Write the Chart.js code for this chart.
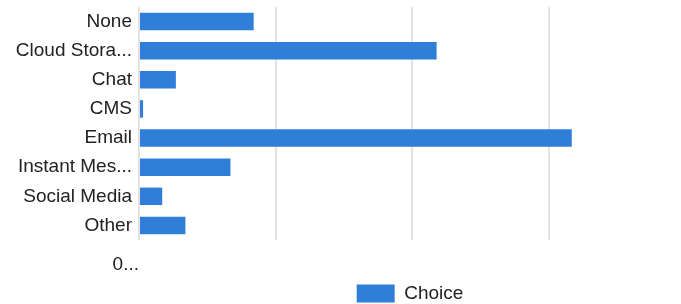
<!DOCTYPE html>
<html>
<head>
<meta charset="utf-8">
<script src="https://cdn.jsdelivr.net/npm/chart.js@4"></script>
<style>
  html, body { margin: 0; padding: 0; background: #fff; overflow: hidden; }
  #wrap { width: 681px; height: 304px; }
</style>
</head>
<body>
<div id="wrap"><canvas id="choiceChart"></canvas></div>
<script>
// categories and values (one gridline = 10)
const categories = ['None', 'Cloud Stora...', 'Chat', 'CMS', 'Email', 'Instant Mes...', 'Social Media', 'Other'];
const choiceValues = [8.4, 21.8, 2.7, 0.3, 31.7, 6.7, 1.7, 3.4];
const tickLabels = ['0...'];
const seriesName = 'Choice';

const blue = '#2f7ed8';
const textColor = '#222222';
const font = { family: 'Arial, "Liberation Sans", sans-serif', size: 19 };

new Chart(document.getElementById('choiceChart'), {
    type: 'bar',
    data: {
        labels: categories,
        datasets: [{
            label: seriesName,
            data: choiceValues,
            backgroundColor: blue,
            borderWidth: 0,
            categoryPercentage: 1,
            barPercentage: 0.6
        }]
    },
    options: {
        indexAxis: 'y',
        responsive: true,
        maintainAspectRatio: false,
        animation: false,
        layout: { padding: { top: 7, right: 0, left: 0, bottom: -9 } },
        scales: {
            x: {
                min: 0,
                max: 39.7,
                afterBuildTicks: axis => {
                    axis.ticks = axis.ticks.filter(t => t.value % 10 === 0);
                },
                afterFit: scale => { scale.height = 41; },
                ticks: {
                    stepSize: 10,
                    align: 'end',
                    padding: 13,
                    color: textColor,
                    font: font,
                    callback: (v, i) => tickLabels[i] || ''
                },
                grid: { color: '#e3e3e3', lineWidth: 2, drawTicks: false },
                border: { display: false }
            },
            y: {
                afterFit: scale => {
                    scale.width = 139;
                    scale.paddingTop = 0;
                    scale.paddingBottom = 0;
                },
                ticks: { color: textColor, font: font, padding: 7, autoSkip: false },
                grid: { display: false, drawTicks: false },
                border: { display: false }
            }
        },
        plugins: {
            legend: {
                position: 'bottom',
                fullSize: false,
                labels: {
                    color: textColor,
                    font: font,
                    boxWidth: 38,
                    boxHeight: 18,
                    padding: 3
                }
            },
            tooltip: { enabled: false }
        }
    }
});
</script>
</body>
</html>
